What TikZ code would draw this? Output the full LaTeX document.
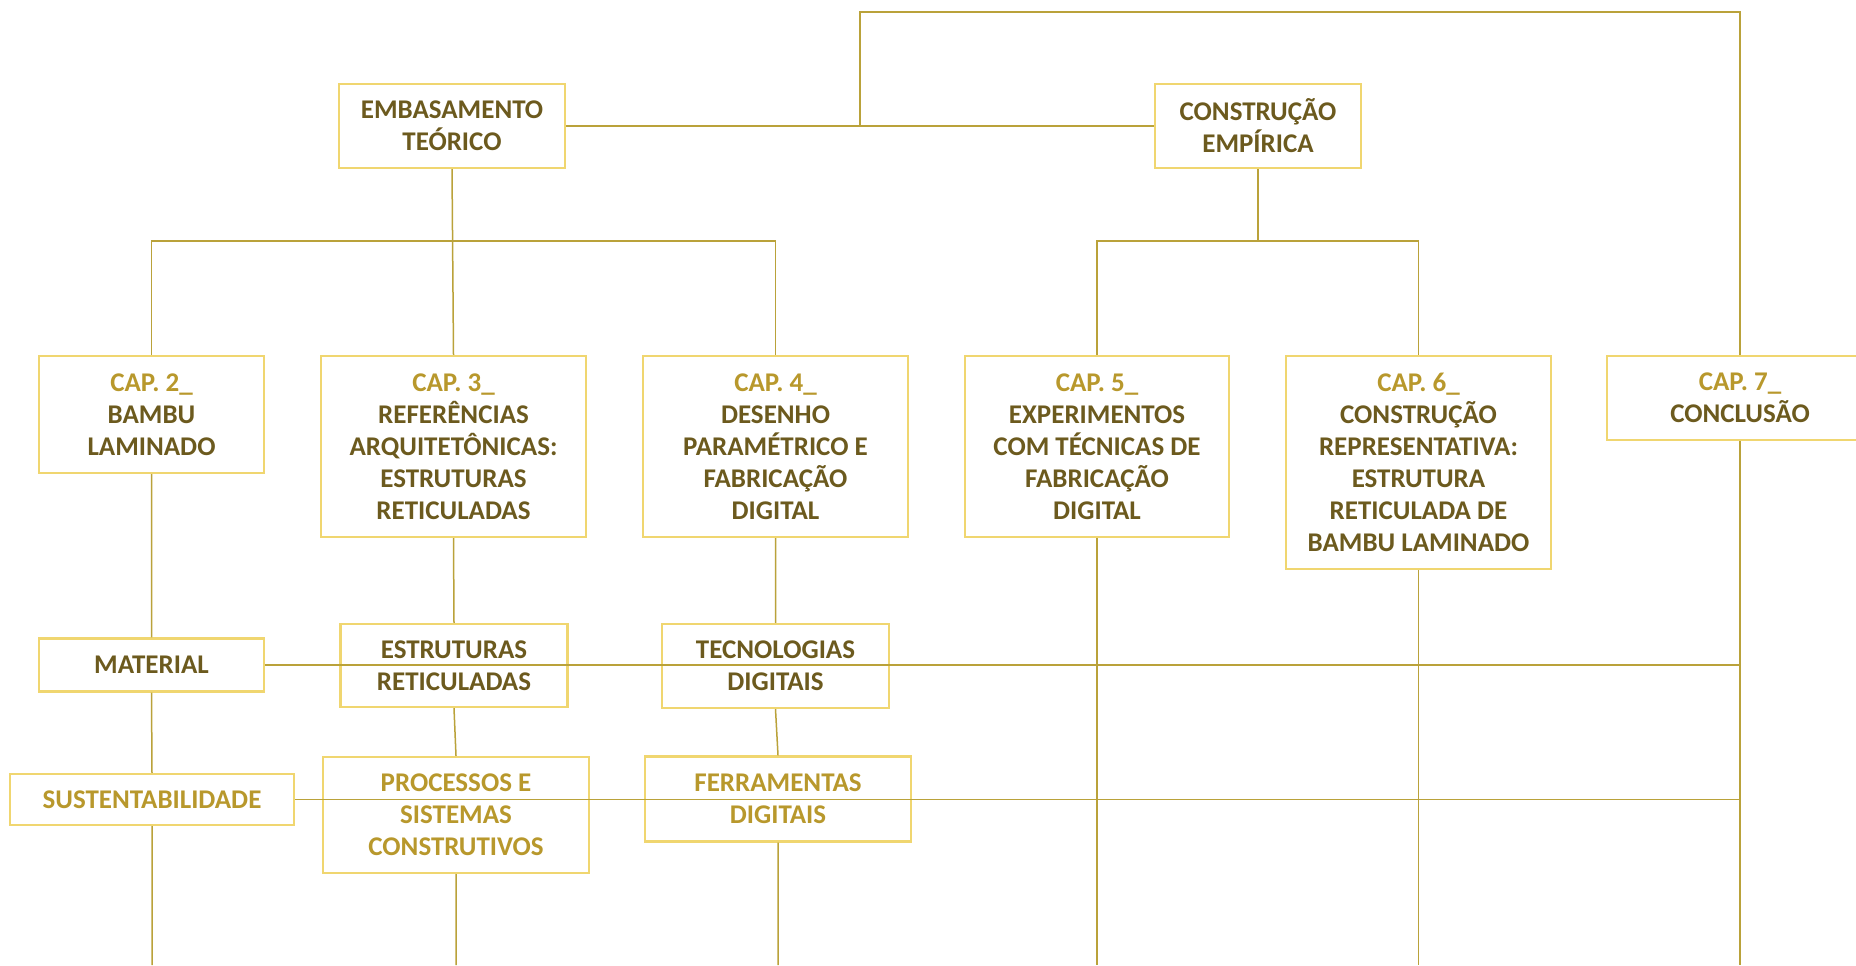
\documentclass[tikz,border=0pt]{standalone}
\usepackage{fontspec}
\setmainfont{Carlito}
\definecolor{boxline}{RGB}{240,214,112}
\definecolor{wire}{RGB}{186,162,58}
\definecolor{darktext}{RGB}{108,90,30}
\definecolor{capgold}{RGB}{184,152,44}
\begin{document}
\begin{tikzpicture}[x=0.5pt,y=-0.5pt,
  caixa/.style={draw=boxline,line width=1.2pt,inner sep=0pt,align=center,
    text=darktext,font=\fontsize{13.5}{16}\selectfont\bfseries},
  fio/.style={draw=wire,line width=0.75pt}]
\useasboundingbox[fill=white](0,0)rectangle(1856,965);
% nivel 1
\node[caixa,minimum width=113pt,minimum height=42pt](emb)at(452,126){EMBASAMENTO\\TEÓRICO};
\node[caixa,minimum width=103pt,minimum height=42pt](cons)at(1258,126){CONSTRUÇÃO\\EMPÍRICA};
% capitulos
\node[caixa,minimum width=112.5pt,minimum height=58.5pt](cap2)at(151.5,414.5)
{{\color{capgold}CAP. 2\_}\\BAMBU\\LAMINADO};
\node[caixa,minimum width=132.5pt,minimum height=90.5pt](cap3)at(453.5,446.5)
{{\color{capgold}CAP. 3\_}\\REFERÊNCIAS\\ARQUITETÔNICAS:\\ESTRUTURAS\\RETICULADAS};
\node[caixa,minimum width=132.5pt,minimum height=90.5pt](cap4)at(775.5,446.5)
{{\color{capgold}CAP. 4\_}\\DESENHO\\PARAMÉTRICO E\\FABRICAÇÃO\\DIGITAL};
\node[caixa,minimum width=132pt,minimum height=90.5pt](cap5)at(1097,446.5)
{{\color{capgold}CAP. 5\_}\\EXPERIMENTOS\\COM TÉCNICAS DE\\FABRICAÇÃO\\DIGITAL};
\node[caixa,minimum width=132.5pt,minimum height=106.5pt](cap6)at(1418.5,462.5)
{{\color{capgold}CAP. 6\_}\\CONSTRUÇÃO\\REPRESENTATIVA:\\ESTRUTURA\\RETICULADA DE\\BAMBU LAMINADO};
\node[caixa,minimum width=133pt,minimum height=42pt](cap7)at(1740,398)
{{\color{capgold}CAP. 7\_}\\CONCLUSÃO};
% temas
\node[caixa,minimum width=112.5pt,minimum height=26.5pt](mat)at(151.5,665){MATERIAL};
\node[caixa,minimum width=113.5pt,minimum height=41.5pt](estr)at(454,665.5){ESTRUTURAS\\RETICULADAS};
\node[caixa,minimum width=113.5pt,minimum height=42pt](tecn)at(775.5,666){TECNOLOGIAS\\DIGITAIS};
\node[caixa,minimum width=142pt,minimum height=25.5pt,text=capgold](sust)at(152,799.5){SUSTENTABILIDADE};
\node[caixa,minimum width=133pt,minimum height=58pt,text=capgold](proc)at(456,815){PROCESSOS E\\SISTEMAS\\CONSTRUTIVOS};
\node[caixa,minimum width=133pt,minimum height=42.5pt,text=capgold](ferr)at(778,799){FERRAMENTAS\\DIGITAIS};
\coordinate(bus)at(0,241);
\coordinate(base)at(0,965);
\coordinate(topo)at(860,126);
\coordinate(canto)at(1740,12);
% ligacoes
\draw[fio](emb.east)--(cons.west);
\draw[fio](topo)|-(canto)--(cap7.north);
\draw[fio](emb.south)--(cap3.north);
\draw[fio](cap2.north)|-(cap4.north|-bus)--(cap4.north);
\draw[fio](cons.south)--(cons.south|-bus);
\draw[fio](cap5.north)|-(cap6.north|-bus)--(cap6.north);
\draw[fio](cap2.south)--(mat.north)(mat.south)--(sust.north)(sust.south)--(sust.south|-base);
\draw[fio](cap3.south)--(estr.north)(estr.south)--(proc.north)(proc.south)--(proc.south|-base);
\draw[fio](cap4.south)--(tecn.north)(tecn.south)--(ferr.north)(ferr.south)--(ferr.south|-base);
\draw[fio](cap5.south)--(cap5.south|-base);
\draw[fio](cap6.south)--(cap6.south|-base);
\draw[fio](cap7.south)--(cap7.south|-base);
\draw[fio](mat.east)--(mat.east-|cap7.south);
\draw[fio](sust.east)--(sust.east-|cap7.south);
\end{tikzpicture}
\end{document}
